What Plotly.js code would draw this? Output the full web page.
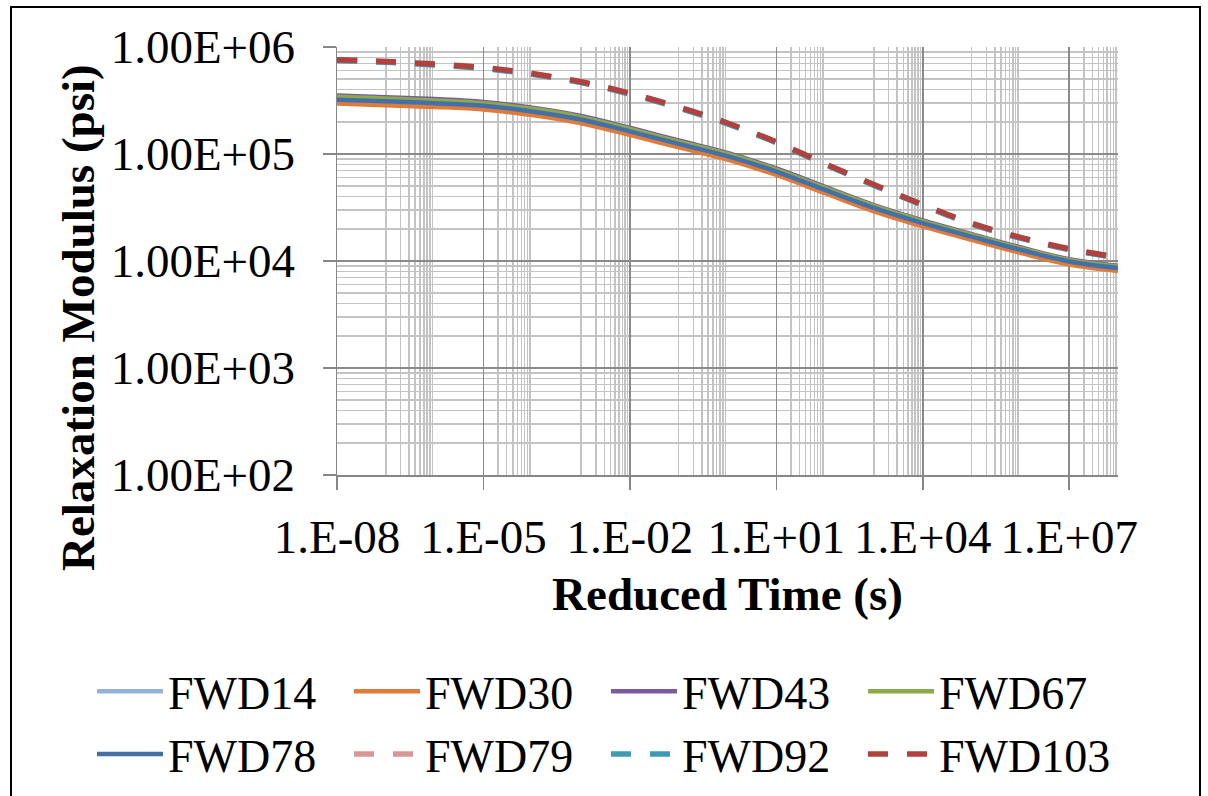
<!DOCTYPE html>
<html>
<head>
<meta charset="utf-8">
<script src="https://cdn.plot.ly/plotly-3.0.1.min.js"></script>
<style>
  html, body { margin: 0; padding: 0; background: #fff; }
  #chart { position: absolute; left: 0; top: 0; width: 1208px; height: 796px; }
  #frame { position: absolute; left: 10px; top: 6px; width: 1191px; height: 820px;
           border: 2px solid #000; box-sizing: border-box; pointer-events: none; }
</style>
</head>
<body>
<div id="chart"></div>
<div id="frame"></div>
<script>
// Reduced time (s)
const reducedTime = [1e-8, 1e-7, 1e-6, 1e-5, 1e-4, 1e-3, 1e-2, 1e-1, 1, 10, 100, 1e3, 1e4, 1e5, 1e6, 1e7, 1e8];

// Relaxation modulus (psi) per section
const FWD14  = [330400, 319200, 306900, 289700, 256400, 215300, 166700, 127400, 97720, 69980, 47210, 31920, 23010, 17180, 12940, 10050, 8730];
const FWD30  = [295800, 285800, 275400, 260600, 231200, 194100, 151000, 115300, 88720, 63680, 43050, 29170, 21090, 15780, 11910, 9268, 8072];
const FWD43  = [352400, 339600, 325800, 306900, 271000, 227000, 175800, 133700, 102300, 73280, 49320, 33270, 23930, 17860, 13430, 10400, 9016];
const FWD67  = [342000, 329600, 316200, 298500, 264200, 221300, 171400, 130600, 100000, 71610, 48190, 32660, 23500, 17540, 13180, 10230, 8872];
const FWD78  = [321400, 310500, 298500, 282500, 250000, 209900, 162900, 124500, 95500, 68550, 46240, 31330, 22590, 16900, 12740, 9910, 8610];
const FWD79  = [753000, 726000, 685000, 635000, 560000, 469000, 366500, 272300, 193200, 128500, 80400, 51400, 33420, 22330, 16480, 12880, 10760];
const FWD92  = [746400, 719400, 679200, 629500, 554600, 464500, 363100, 269800, 191400, 127400, 79620, 50930, 33110, 22130, 16330, 12760, 10670];
const FWD103 = [760300, 732800, 691800, 641200, 564900, 473200, 369800, 274800, 195000, 129700, 81100, 51880, 33730, 22540, 16630, 13000, 10860];

// Tick labels
const xTickVals = [1e-8, 1e-5, 1e-2, 1e1, 1e4, 1e7];
const xTickText = ['1.E-08', '1.E-05', '1.E-02', '1.E+01', '1.E+04', '1.E+07'];
const yTickVals = [1e2, 1e3, 1e4, 1e5, 1e6];
const yTickText = ['1.00E+02', '1.00E+03', '1.00E+04', '1.00E+05', '1.00E+06'];

const seriesNames = ['FWD14', 'FWD30', 'FWD43', 'FWD67', 'FWD78', 'FWD79', 'FWD92', 'FWD103'];
const seriesData = [FWD14, FWD30, FWD43, FWD67, FWD78, FWD79, FWD92, FWD103];
const seriesColors = ['#95B3D7', '#E07B39', '#7A5C9E', '#8DAA4A', '#4470AA', '#D99694', '#3F9AB5', '#B0413E'];
const seriesDash = ['solid', 'solid', 'solid', 'solid', 'solid', '20px,19px', '20px,19px', '20px,19px'];

// Minor gridline positions (layout only)
const xMinor = [];
for (let n = -7; n <= 7; n += 2) {
  for (let m = 1; m <= 9; m++) {
    const v = m * Math.pow(10, n);
    if (m === 1 && (n === -5 || n === 1 || n === 7)) continue;
    xMinor.push(v);
  }
}
xMinor.push(1e8);
const yMinor = [];
for (let n = 2; n <= 5; n++) {
  for (let m = 2; m <= 9; m++) yMinor.push(m * Math.pow(10, n));
}

const FONT = 'Liberation Serif, Times New Roman, serif';

const traces = seriesNames.map((name, i) => ({
  type: 'scatter',
  mode: 'lines',
  name: name,
  x: reducedTime,
  y: seriesData[i],
  line: { color: seriesColors[i], width: i >= 5 ? 5.5 : 4.5, dash: seriesDash[i], shape: 'spline', smoothing: 1 },
  hoverinfo: 'x+y+name'
}));

const layout = {
  width: 1208,
  height: 796,
  margin: { l: 337, r: 90, t: 47, b: 321, autoexpand: false },
  paper_bgcolor: '#ffffff',
  plot_bgcolor: '#ffffff',
  font: { family: FONT, color: '#000000' },
  showlegend: true,
  xaxis: {
    type: 'log',
    range: [-8, 8],
    tickmode: 'array',
    tickvals: xTickVals,
    ticktext: xTickText,
    tickfont: { family: FONT, size: 47, color: '#000' },
    ticks: 'outside',
    ticklen: 13,
    tickwidth: 1.5,
    tickcolor: '#878787',
    ticklabelstandoff: 7,
    showline: true,
    linecolor: '#878787',
    linewidth: 1.5,
    showgrid: true,
    gridcolor: '#8a8a8a',
    gridwidth: 1.5,
    zeroline: false,
    minor: { tickmode: 'array', tickvals: xMinor, showgrid: true, gridcolor: '#c3c3c3', gridwidth: 1.5, ticks: '' },
    title: { text: 'Reduced Time (s)', font: { family: FONT, size: 47, color: '#000', weight: 'bold' }, standoff: 15 }
  },
  yaxis: {
    type: 'log',
    range: [2, 6],
    tickmode: 'array',
    tickvals: yTickVals,
    ticktext: yTickText,
    tickfont: { family: FONT, size: 47, color: '#000' },
    ticks: 'outside',
    ticklen: 13,
    tickwidth: 1.5,
    tickcolor: '#878787',
    ticklabelstandoff: 18,
    showline: true,
    linecolor: '#878787',
    linewidth: 1.5,
    showgrid: true,
    gridcolor: '#8a8a8a',
    gridwidth: 1.5,
    zeroline: false,
    minor: { tickmode: 'array', tickvals: yMinor, showgrid: true, gridcolor: '#c3c3c3', gridwidth: 1.5, ticks: '' }
  },
  legend: {
    orientation: 'h',
    x: -0.3137,
    xanchor: 'left',
    y: -0.42,
    yanchor: 'top',
    font: { family: FONT, size: 46, color: '#000' },
    entrywidth: 176,
    entrywidthmode: 'pixels',
    itemwidth: 66,
    traceorder: 'normal',
    bgcolor: 'rgba(0,0,0,0)'
  },
  annotations: [{
    text: 'Relaxation Modulus (psi)',
    xref: 'paper', yref: 'paper',
    x: -0.3316, y: 0.367,
    xanchor: 'center', yanchor: 'middle',
    textangle: -90,
    showarrow: false,
    font: { family: FONT, size: 47, color: '#000', weight: 'bold' }
  }]
};

Plotly.newPlot('chart', traces, layout, { staticPlot: true, displayModeBar: false });
</script>
</body>
</html>
